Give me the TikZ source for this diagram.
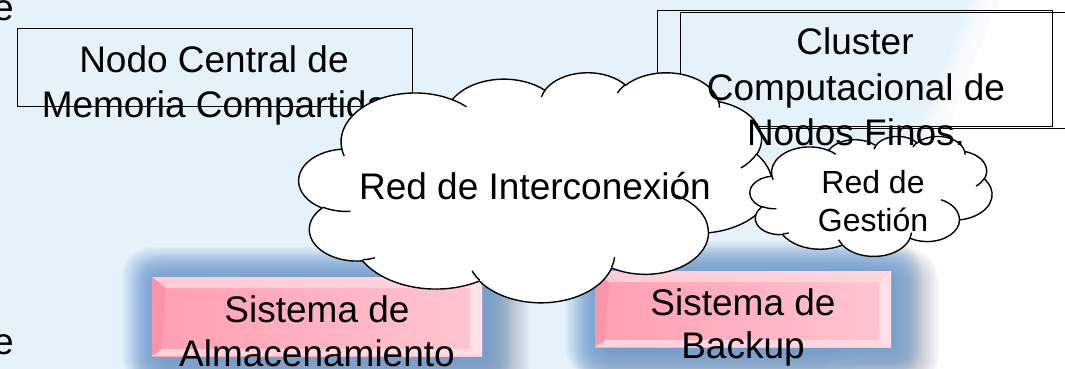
\documentclass[tikz,border=0pt]{standalone}
\usepackage{fontspec}
\setmainfont{Liberation Sans}
\definecolor{bgblue}{HTML}{E6F2FA}
\definecolor{glowblue}{HTML}{6C9EDC}
\definecolor{shadowc}{HTML}{6E7C8C}
\definecolor{pinkL}{HTML}{FF9EB2}
\definecolor{pinkR}{HTML}{FFC6D1}
\definecolor{bevT}{HTML}{FFDCE4}
\definecolor{bevL}{HTML}{F48CA2}
\definecolor{bevR}{HTML}{FFEAF0}
\definecolor{bevB}{HTML}{FFE2E9}

\newcommand\defarc[5]{%
  \pgfmathsetmacro\tmpS{atan2((#2)*sin(#4),(#3)*cos(#4))}%
  \pgfmathsetmacro\tmpE{atan2((#2)*sin((#4)+(#5)),(#3)*cos((#4)+(#5)))}%
  \pgfmathsetmacro\tmpD{\tmpE-\tmpS}%
  \pgfmathsetmacro\tmpD{((\tmpD<0)&&(#5>0))?(\tmpD+360):(\tmpD)}%
  \expandafter\xdef\csname #1\endcsname{arc[start angle=\tmpS, delta angle=\tmpD, x radius=#2, y radius=#3]}%
}

\newcommand\pinkbox[4]{%
  \foreach \ex in {34,32,...,2}{
    \fill[shadowc, opacity=0.045, rounded corners=\ex pt] (#1-\ex+14, -#2+\ex-10) rectangle (#3+\ex+14, -#4-\ex-10);
  }
  \foreach \ex in {30,28,...,2}{
    \fill[glowblue, opacity=0.075, rounded corners=\ex pt] (#1-\ex, -#2+\ex) rectangle (#3+\ex, -#4-\ex);
  }
  \shade[left color=pinkL, right color=pinkR] (#1,-#2) rectangle (#3,-#4);
  \fill[bevT, opacity=0.75] (#1,-#2) -- (#3,-#2) -- (#3-12,-#2-11) -- (#1+14,-#2-11) -- cycle;
  \fill[bevL, opacity=0.5] (#1,-#2) -- (#1+14,-#2-11) -- (#1+10,-#4+7) -- (#1,-#4) -- cycle;
  \fill[bevR, opacity=0.75] (#3,-#2) -- (#3,-#4) -- (#3-12,-#4+7) -- (#3-12,-#2-11) -- cycle;
  \fill[bevB, opacity=0.75] (#1,-#4) -- (#3,-#4) -- (#3-12,-#4+7) -- (#1+10,-#4+7) -- cycle;
}

\newcommand\drawcloud[4]{%
  \pgfmathsetmacro\csx{#3/432}%
  \pgfmathsetmacro\csy{#4/432}%
  \begin{scope}[shift={(#1,-#2)}, xscale=\csx, yscale=-\csy]
    \filldraw[cloudline] (39.00,143.70) \cldA \cldB \cldC \cldD \cldE \cldF \cldG \cldH \cldI \cldJ \cldK -- cycle;
    \draw[cloudcrease] (46.93,261.77) \crsA (69.28,348.99) \crsB (164.78,390.90) \crsC
      (288.27,347.51) \crsD (341.29,229.54) \crsE (417.98,153.54) \crsF
      (383.24,54.26) \crsG (290.78,39.52) \crsH (221.41,47.20) \crsI
      (140.00,51.92) \crsJ (41.27,157.89) \crsK;
  \end{scope}
}

\begin{document}
\defarc{cldA}{67.53}{91.90}{-190.4875}{123.7805}
\defarc{cldB}{53.33}{72.67}{-144.1024}{89.9452}
\defarc{cldC}{43.65}{59.45}{-145.8079}{99.7230}
\defarc{cldD}{48.57}{65.95}{-130.9861}{117.2417}
\defarc{cldE}{53.33}{72.73}{-78.7089}{109.0269}
\defarc{cldF}{67.75}{92.20}{-46.2673}{130.2690}
\defarc{cldG}{57.85}{78.67}{0.6250}{114.0333}
\defarc{cldH}{67.52}{92.15}{22.4516}{115.1726}
\defarc{cldI}{77.20}{105.43}{66.2426}{75.7110}
\defarc{cldJ}{43.60}{59.18}{-274.9421}{146.7356}
\defarc{cldK}{43.45}{59.45}{-246.8285}{152.5189}
\defarc{crsA}{43.45}{59.45}{86.7420}{26.4295}
\defarc{crsB}{43.60}{59.18}{73.6105}{11.4475}
\defarc{crsC}{67.52}{92.15}{137.6242}{14.0811}
\defarc{crsD}{67.52}{92.15}{6.4533}{15.9984}
\defarc{crsE}{57.85}{78.67}{-70.2924}{70.9174}
\defarc{crsF}{53.33}{72.73}{30.3180}{27.7515}
\defarc{crsG}{48.57}{65.95}{-13.7443}{14.8589}
\defarc{crsH}{48.57}{65.95}{-149.1815}{18.1954}
\defarc{crsI}{43.65}{59.45}{-163.4943}{17.6864}
\defarc{crsJ}{67.53}{91.90}{-66.7070}{12.3194}
\defarc{crsK}{67.53}{91.90}{157.6544}{11.8582}
\begin{tikzpicture}[x=1pt,y=1pt,
  lbl/.style={font=\fontsize{37}{44}\selectfont, inner sep=0pt, anchor=base},
  lblsmall/.style={font=\fontsize{32}{38}\selectfont, inner sep=0pt, anchor=base},
  framebox/.style={draw=black, line width=1.3pt, inner sep=0pt, anchor=north west},
  cloudline/.style={draw=black, line width=1.4pt, fill=white},
  cloudcrease/.style={draw=black, line width=1.4pt}]
\useasboundingbox (0,0) rectangle (1065,-369);
\clip (0,0) rectangle (1065,-369);
\fill[bgblue] (0,0) rectangle (1065,-369);
\foreach \k in {0,...,6}{
  \fill[white, opacity=0.25] (971+4*\k,0) -- (1065,0) -- (1065,-369) -- (824+4*\k,-369) -- cycle;
}
\fill[white] (999,0) -- (1065,0) -- (1065,-369) -- (852,-369) -- cycle;

% cut-off letters at the left edge
\node[lbl, anchor=base west] (ea) at (-7,-21) {e};
\node[lbl, anchor=base west] (eb) at (-7,-354) {e};

% Nodo Central box
\node[framebox, minimum width=395pt, minimum height=78pt] (box1) at (17,-28) {};
\node[lbl] (t1a) at (214,-73) {Nodo Central de};
\node[lbl] (t1b) at (214.5,-117) {Memoria Compartida};

% Cluster frames
\node[framebox, minimum width=395pt, minimum height=116pt] (cl1) at (657,-10) {};
\node[framebox, minimum width=400pt, minimum height=116pt] (cl2) at (680,-12) {};

% storage boxes
\pinkbox{152}{277}{482}{356}
\node[lbl] (t3a) at (317,-322) {Sistema de};
\node[lbl] (t3b) at (317,-366) {Almacenamiento};
\pinkbox{595}{271}{891}{347}
\node[lbl] (t4a) at (743,-315) {Sistema de};
\node[lbl] (t4b) at (743,-358) {Backup};

% clouds
\drawcloud{299}{72}{473}{230}
\node[lbl] (t5) at (535,-199) {Red de Interconexión};
\drawcloud{750}{136}{242}{120}
\node[lblsmall] (t6a) at (873,-193) {Red de};
\node[lblsmall] (t6b) at (873,-231) {Gestión};

% Cluster text (on top of the clouds)
\node[lbl] (t2a) at (855,-55) {Cluster};
\node[lbl] (t2b) at (856,-100) {Computacional de};
\node[lbl] (t2c) at (856,-145) {Nodos Finos.};
\end{tikzpicture}
\end{document}
